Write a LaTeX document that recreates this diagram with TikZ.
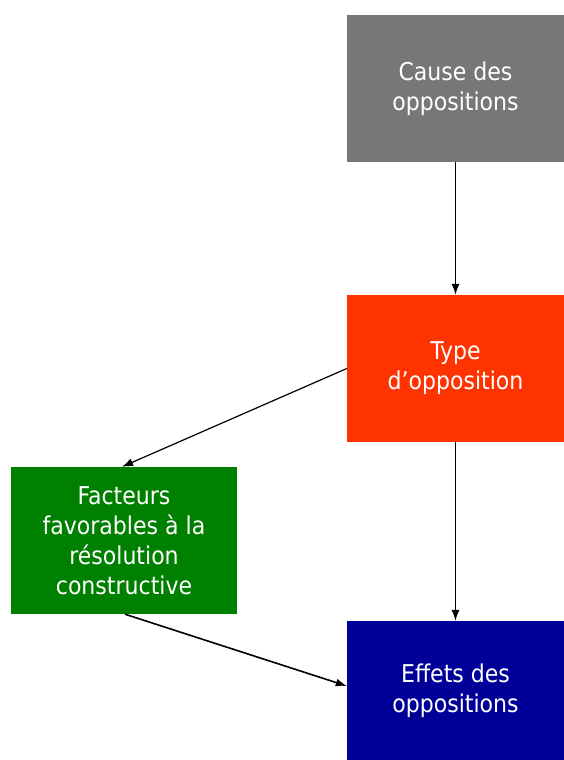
\documentclass[tikz,border=0pt]{standalone}
\usepackage{fontspec}
\setmainfont{DejaVu Sans Condensed}
\usetikzlibrary{arrows.meta}
\definecolor{cgray}{HTML}{777777}
\definecolor{cred}{HTML}{FF3300}
\definecolor{cgreen}{HTML}{008000}
\definecolor{cblue}{HTML}{000099}
\tikzset{
  box/.style={draw=none, inner sep=0pt, align=center, text=white,
    font=\fontsize{24.5}{30}\selectfont},
  conn/.style={line width=1.2pt, -{Latex[length=11pt,width=8pt]}}
}
\begin{document}
\begin{tikzpicture}[x=1pt,y=-1pt]
\useasboundingbox (0,0) rectangle (564,760);
\node[box, fill=cgray, minimum width=217pt, minimum height=147pt] (cause) at (455.5,88.5) {Cause des\\oppositions};
\node[box, fill=cred, minimum width=217pt, minimum height=147pt] (type) at (455.5,368.5) {Type\\d’opposition};
\node[box, fill=cgreen, minimum width=226pt, minimum height=147pt] (fact) at (124,540.5) {Facteurs\\favorables à la\\résolution\\constructive};
\node[box, fill=cblue, minimum width=217pt, minimum height=139pt] (eff) at (455.5,690.5) {Effets des\\oppositions};
\draw[conn] (cause.south) -- (type.north);
\draw[conn] (type.south) -- (eff.north);
\draw[conn] (type.west) -- ([xshift=-2pt]fact.north);
\draw[conn, line width=1.6pt] ([xshift=1pt]fact.south) -- ([yshift=4.5pt]eff.west);
\end{tikzpicture}
\end{document}
